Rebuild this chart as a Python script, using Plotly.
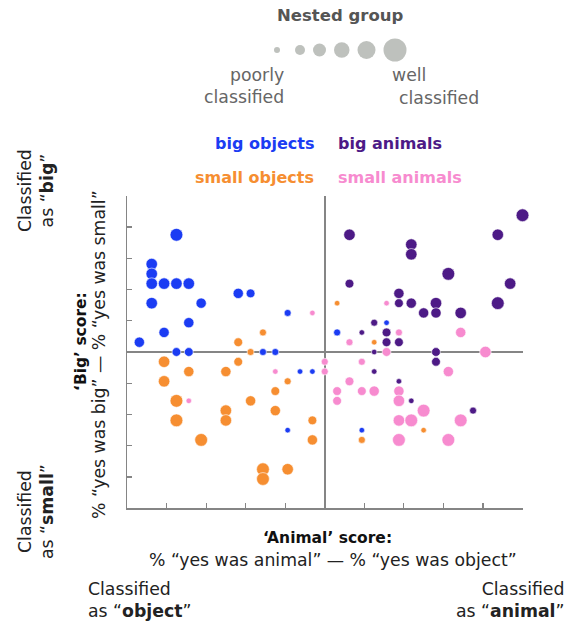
import plotly.graph_objects as go

# ---------------- data (scores in %) ----------------
big_objects_x = [-75, -87.5, -87.5, -87.5, -81.25, -75, -68.75, -43.75, -37.5, -87.5, -62.5, -68.75,
                 -81.25, -93.75, -75, -68.75, -31.25, -25, -18.75, -12.5, -6.25, -18.75, 31.25, 6.25, 18.75]
big_objects_y = [75, 56.25, 50, 43.75, 43.75, 43.75, 43.75, 37.5, 37.5, 31.25, 31.25, 18.75,
                 12.5, 6.25, 0, 0, 0, 0, 25, -12.5, -12.5, -50, 18.75, 12.5, -50]
big_objects_lvl = [6, 5, 5, 5, 5, 5, 5, 4, 3, 5, 4, 4, 4, 4, 3, 3, 2, 2, 2, 1, 1, 1, 1, 2, 1]

small_objects_x = [-31.25, -43.75, -37.5, -81.25, -43.75, -68.75, -50, -81.25, -18.75, -75, -25, -37.5,
                   -50, -25, -75, -50, -6.25, -62.5, -6.25, -31.25, -31.25, -18.75, 6.25, 25, 50, 18.75]
small_objects_y = [12.5, 6.25, 0, -6.25, -6.25, -12.5, -12.5, -18.75, -18.75, -31.25, -25, -31.25,
                   -37.5, -37.5, -43.75, -43.75, -43.75, -56.25, -56.25, -75, -81.25, -75, 31.25, 6.25, -50, -56.25]
small_objects_lvl = [2, 3, 2, 5, 3, 4, 4, 5, 2, 6, 3, 4, 5, 4, 6, 5, 3, 6, 4, 6, 6, 5, 1, 1, 1, 2]

small_animals_x = [-6.25, -25, -68.75, 0, 0, 31.25, 37.5, 12.5, 68.75, 31.25, 81.25, 18.75, 62.5,
                   12.5, 6.25, 18.75, 25, 37.5, 6.25, 37.5, 50, 37.5, 43.75, 68.75, 37.5, 62.5]
small_animals_y = [25, -12.5, -31.25, -6.25, -12.5, 31.25, 12.5, 6.25, 12.5, 0, 0, -6.25, -12.5,
                   -18.75, -25, -25, -25, -25, -31.25, -31.25, -37.5, -43.75, -43.75, -43.75, -56.25, -56.25]
small_animals_lvl = [1, 1, 1, 2, 2, 1, 2, 2, 4, 3, 5, 2, 4, 3, 3, 3, 4, 4, 3, 5, 6, 5, 6, 6, 6, 6]

big_animals_x = [100, 12.5, 87.5, 43.75, 43.75, 62.5, 12.5, 93.75, 37.5, 37.5, 43.75, 56.25, 87.5, 50,
                 56.25, 68.75, 25, 31.25, 18.75, 31.25, 37.5, 25, 56.25, 56.25, 25, 37.5, 43.75, 75]
big_animals_y = [87.5, 75, 75, 68.75, 62.5, 50, 43.75, 43.75, 37.5, 31.25, 31.25, 31.25, 31.25, 25,
                 25, 25, 18.75, 12.5, 12.5, 6.25, 6.25, 0, 0, -6.25, -12.5, -18.75, -31.25, -37.5]
big_animals_lvl = [6, 5, 5, 5, 5, 6, 3, 5, 4, 3, 4, 5, 6, 4, 4, 5, 2, 3, 1, 3, 3, 1, 3, 3, 1, 1, 1, 2]

group_names = ["big objects", "small objects", "small animals", "big animals"]
legend_levels = [1, 2, 3, 4, 5, 6]

# ---------------- style ----------------
W, H = 587, 625
COL = {"big objects": "#1b3cf3", "small objects": "#f68e31",
       "small animals": "#f78bcf", "big animals": "#4d1a86"}
PLOT_DIAM = {1: 5.5, 2: 7, 3: 8.8, 4: 10.3, 5: 11.5, 6: 12.8}
KEY_DIAM = {1: 6, 2: 10, 3: 13, 4: 15.5, 5: 18, 6: 23}
FONT = "DejaVu Sans, Liberation Sans, Arial, sans-serif"
L, R, T, B = 127, 522.5, 195.7, 508.3   # plot area in screen pixels


def fx(x):
    return x / W


def fy(y):
    return 1 - y / H


series = {
    "big objects": (big_objects_x, big_objects_y, big_objects_lvl),
    "small objects": (small_objects_x, small_objects_y, small_objects_lvl),
    "small animals": (small_animals_x, small_animals_y, small_animals_lvl),
    "big animals": (big_animals_x, big_animals_y, big_animals_lvl),
}

fig = go.Figure()
for name in group_names:
    xs, ys, lv = series[name]
    fig.add_trace(go.Scatter(
        x=xs, y=ys, mode="markers", name=name, cliponaxis=False, showlegend=False,
        marker=dict(color=COL[name], size=[PLOT_DIAM[v] for v in lv],
                    line=dict(color="white", width=0.6), opacity=1),
        hoverinfo="skip"))

# size key (nested group) drawn on an overlay pixel axis
key_x = []
cx = 277
gaps = [15, 8, 8, 8, 8]
for k, lvl in enumerate(legend_levels):
    if k > 0:
        cx += (KEY_DIAM[legend_levels[k - 1]] + KEY_DIAM[lvl]) / 2 + gaps[k - 1]
    key_x.append(cx)
fig.add_trace(go.Scatter(
    x=key_x, y=[50] * len(legend_levels), xaxis="x2", yaxis="y2", mode="markers",
    showlegend=False, hoverinfo="skip", cliponaxis=False,
    marker=dict(color="#a3a7a1", size=[KEY_DIAM[v] for v in legend_levels], line=dict(width=0))))

axis_common = dict(showline=True, linecolor="#858585", linewidth=1.5, ticks="inside", ticklen=5,
                   tickcolor="#858585", tickwidth=1.2, showticklabels=False, showgrid=False,
                   zeroline=True, zerolinecolor="#858585", zerolinewidth=1.5, range=[-100, 100],
                   tickvals=[-80, -60, -40, -20, 0, 20, 40, 60, 80, 100], fixedrange=True)

fig.update_layout(
    width=W, height=H, margin=dict(l=0, r=0, t=0, b=0),
    paper_bgcolor="white", plot_bgcolor="rgba(0,0,0,0)",
    font=dict(family=FONT, color="#222"),
    xaxis=dict(domain=[fx(L), fx(R)], anchor="y", **axis_common),
    yaxis=dict(domain=[fy(B), fy(T)], anchor="x", **axis_common),
    xaxis2=dict(domain=[0, 1], range=[0, W], visible=False, anchor="y2", fixedrange=True),
    yaxis2=dict(domain=[0, 1], range=[H, 0], visible=False, anchor="x2", fixedrange=True),
)

ann = []


def text(t, x, y, size, color="#222", xanchor="center", yanchor="middle", align="center", angle=0):
    ann.append(dict(text=t, x=fx(x), y=fy(y), xref="paper", yref="paper", showarrow=False,
                    xanchor=xanchor, yanchor=yanchor, align=align, textangle=angle,
                    font=dict(size=size, color=color, family=FONT)))


REG = 17.3
BOLD = 15.5
# size key labels
text("<b>Nested group</b>", 340, 15, 16.5, "#555")
text("poorly<br>classified", 286, 86, REG, "#666", xanchor="right", align="right")
text("well", 390, 75, REG, "#666", xanchor="left", align="left")
text("classified", 397, 98, REG, "#666", xanchor="left", align="left")

# category labels
text("<b>big objects</b>", 316, 144, 16, COL["big objects"], xanchor="right")
text("<b>big animals</b>", 336, 144, 16, COL["big animals"], xanchor="left")
text("<b>small objects</b>", 316, 177, 16, COL["small objects"], xanchor="right")
text("<b>small animals</b>", 336, 177, 16, COL["small animals"], xanchor="left")

# y axis titles
text("<b>‘Big’ score:</b>", 81, 342, BOLD, "#111", angle=-90)
text("% “yes was big” — % “yes was small”", 99, 355, REG, "#222", angle=-90)
text("Classified<br>as “<b>big</b>”", 36, 191, REG, "#222", angle=-90)
text("Classified<br>as “<b>small</b>”", 36, 512, REG, "#222", angle=-90)

# x axis titles
text("<b>‘Animal’ score:</b>", 327, 538, BOLD, "#111")
text("% “yes was animal” — % “yes was object”", 333, 560, REG, "#222")
text("Classified<br>as “<b>object</b>”", 86, 600, REG, "#222", xanchor="left", align="left")
text("Classified<br>as “<b>animal</b>”", 566, 600, REG, "#222", xanchor="right", align="right")

fig.update_layout(annotations=ann)
fig.write_html("out.html", config={"displayModeBar": False, "staticPlot": True},
               post_script="document.body.style.margin='0';document.body.style.padding='0';")
